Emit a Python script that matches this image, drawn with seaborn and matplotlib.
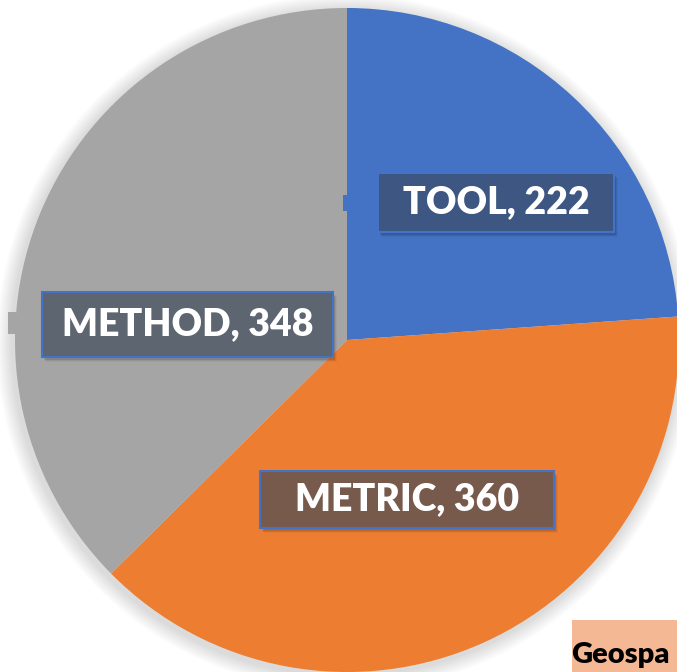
import matplotlib
matplotlib.use("Agg")
import matplotlib.pyplot as plt
from matplotlib.patches import Rectangle, Circle
import seaborn as sns

categories = ["TOOL", "METRIC", "METHOD"]
values = [222, 360, 348]
colors = ["#4472C4", "#ED7D31", "#A5A5A5"]
label_fill = ["#3D5682", "#785A4C", "#5D6570"]
title_fragment = "Geospa"

sns.set_theme(style="white")
plt.rcParams["font.family"] = ["Lato", "DejaVu Sans"]

W, H = 677, 672
fig = plt.figure(figsize=(W / 100, H / 100), dpi=100)
ax = fig.add_axes([0, 0, 1, 1])

cx, cy, r = 347, H - 340, 332

# soft shadow
for i in range(12):
    ax.add_patch(Circle((cx - 2, cy - 3), r + 2 + i * 1.3, color="black",
                        alpha=0.012, lw=0, zorder=0))

ax.pie(values, colors=colors, startangle=90, counterclock=False,
       center=(cx, cy), radius=r, frame=True,
       wedgeprops=dict(linewidth=0))
ax.set_xlim(0, W)
ax.set_ylim(0, H)
ax.axis("off")

# label boxes (pixel bounds: x0, y0 top, x1, y1 bottom)
boxes = [(378, 173, 614, 232), (260, 471, 554, 528), (42, 292, 333, 357)]
for (x0, y0, x1, y1), cat, val, fc in zip(boxes, categories, values, label_fill):
    for k, a in enumerate([0.10, 0.07, 0.04]):
        ax.add_patch(Rectangle((x0 + 2 + k, H - y1 - 3 - k), x1 - x0, y1 - y0,
                               facecolor="black", alpha=a, lw=0, zorder=3))
    ax.add_patch(Rectangle((x0, H - y1), x1 - x0, y1 - y0, facecolor=fc,
                           edgecolor="#4472C4", lw=1.5, zorder=4))
    ax.text((x0 + x1) / 2, H - (y0 + y1) / 2, f"{cat}, {val}", color="white",
            fontsize=27, fontweight="heavy", ha="center", va="center", zorder=5)

# leader stubs
ax.add_patch(Rectangle((343, H - 211), 8, 16, facecolor="#4472C4", lw=0, zorder=2))
ax.add_patch(Rectangle((8, H - 334), 8, 22, facecolor="#A5A5A5", lw=0, zorder=2))

# partially visible title box
ax.add_patch(Rectangle((572, 0), 110, H - 620, facecolor="#F4B994", lw=0, zorder=6))
ax.text(571, H - 655, title_fragment, color="black", fontsize=21, fontweight="heavy",
        ha="left", va="center", zorder=7)

fig.savefig("out.png", dpi=100)
